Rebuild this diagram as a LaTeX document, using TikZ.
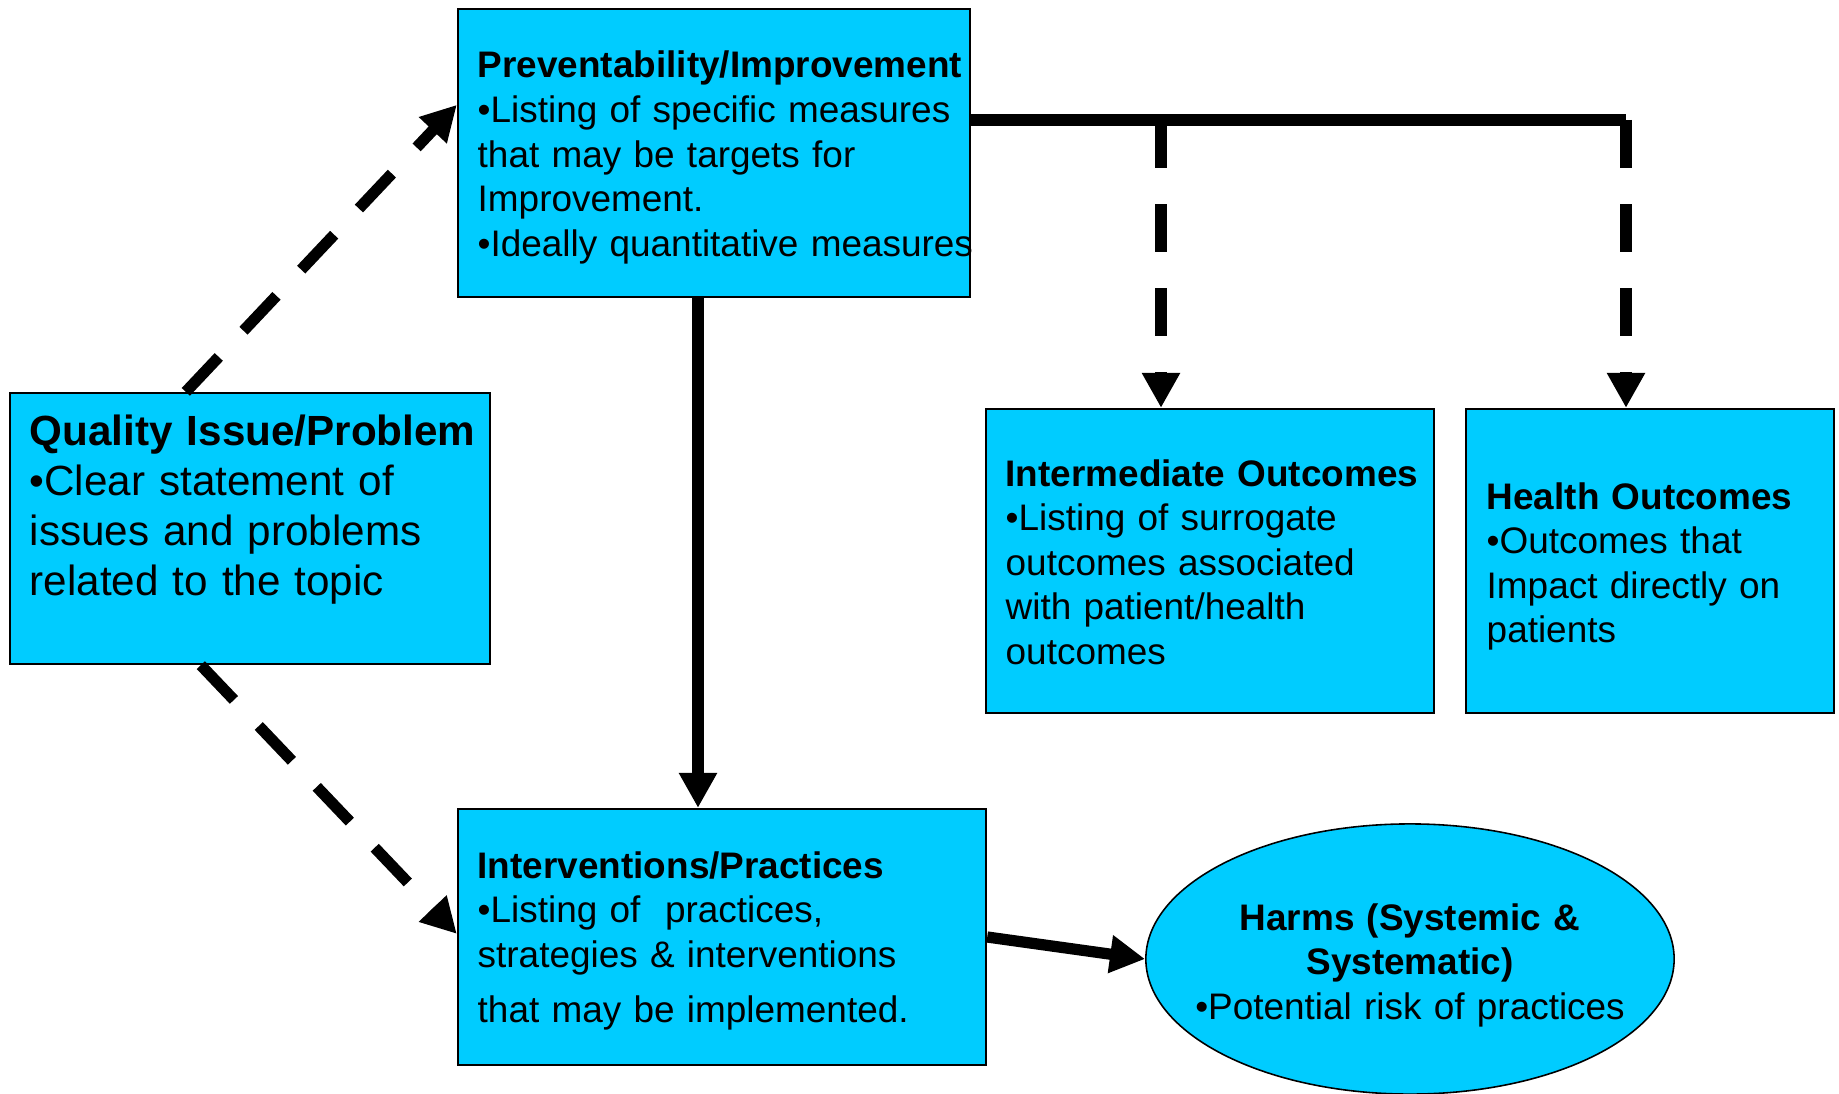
\documentclass[tikz,border=0pt]{standalone}
\usepackage{fontspec}
\setmainfont{Liberation Sans}
\usetikzlibrary{arrows.meta,calc,shapes.geometric}
\definecolor{boxcyan}{HTML}{00CCFF}
\begin{document}
\begin{tikzpicture}[x=0.01cm,y=-0.01cm,
  box/.style={draw=black, line width=0.6pt, fill=boxcyan, inner sep=0pt},
  txt/.style={anchor=base west, inner sep=0pt, text width=6cm, align=left,
    font=\fontsize{10.5}{12.7}\selectfont},
  bigtxt/.style={txt, font=\fontsize{12}{14.3}\selectfont},
  link/.style={line width=3.2pt, -{Triangle[length=3.5mm,width=3.6mm]}},
  dashlink/.style={link, dash pattern=on 4.8mm off 3.6mm},
]
\useasboundingbox (0,0) rectangle (1839,1094);

% boxes
\node[box, minimum width=5.12cm, minimum height=2.88cm] (prev) at (714,153) {};
\node[box, minimum width=4.80cm, minimum height=2.71cm] (quality) at (250,528.5) {};
\node[box, minimum width=4.48cm, minimum height=3.04cm] (inter) at (1210,561) {};
\node[box, minimum width=3.68cm, minimum height=3.04cm] (health) at (1650,561) {};
\node[box, minimum width=5.28cm, minimum height=2.56cm] (interv) at (722,937) {};
\node[box, ellipse, line width=0.45pt, minimum width=5.28cm, minimum height=2.70cm] (harms) at (1410,959) {};

% texts
\node[txt] (prevtxt) at (477,78) {\textbf{Preventability/Improvement}\\
  •Listing of specific measures\\
  that may be targets for\\
  Improvement.\\
  •Ideally quantitative measures};
\node[bigtxt] (qualtxt) at (29,445) {\textbf{Quality Issue/Problem}\\
  •Clear statement of\\
  issues and problems\\
  related to the topic};
\node[txt] (intertxt) at (1005,486) {\textbf{Intermediate Outcomes}\\
  •Listing of surrogate\\
  outcomes associated\\
  with patient/health\\
  outcomes};
\node[txt] (healthtxt) at (1486,509) {\textbf{Health Outcomes}\\
  •Outcomes that\\
  Impact directly on\\
  patients};
\node[txt] (intervtxt) at (477,878) {\textbf{Interventions/Practices}\\
  •Listing of \ practices,\\
  strategies \& interventions\\[3pt]
  that may be implemented.};
\node[txt, anchor=base, align=center, text width=4.6cm] (harmstxt) at (1410,930)
  {\textbf{Harms (Systemic \&}\\
  \textbf{Systematic)}\\
  •Potential risk of practices};

% connectors
\coordinate (qtop) at ($(quality.north west)+(177,0)$);
\coordinate (qbot) at ($(quality.south west)+(192,0)$);
\coordinate (barL) at (1161,120);
\coordinate (barR) at (1626,120);
\coordinate (vx) at (698,0);

\draw[dashlink] (qtop) -- ($(prev.north west)+(0,97)$);
\draw[dashlink] (qbot) -- ($(interv.north west)+(0,126)$);
\draw[link] (prev.south -| vx) -- (interv.north -| vx);
\draw[line width=3.2pt] (prev.east |- barR) -- (barR);
\draw[dashlink] (barL) -- (barL |- inter.north);
\draw[dashlink] (barR) -- (barR |- health.north);
\draw[link] (interv.east) -- (harms.west);
\end{tikzpicture}
\end{document}
